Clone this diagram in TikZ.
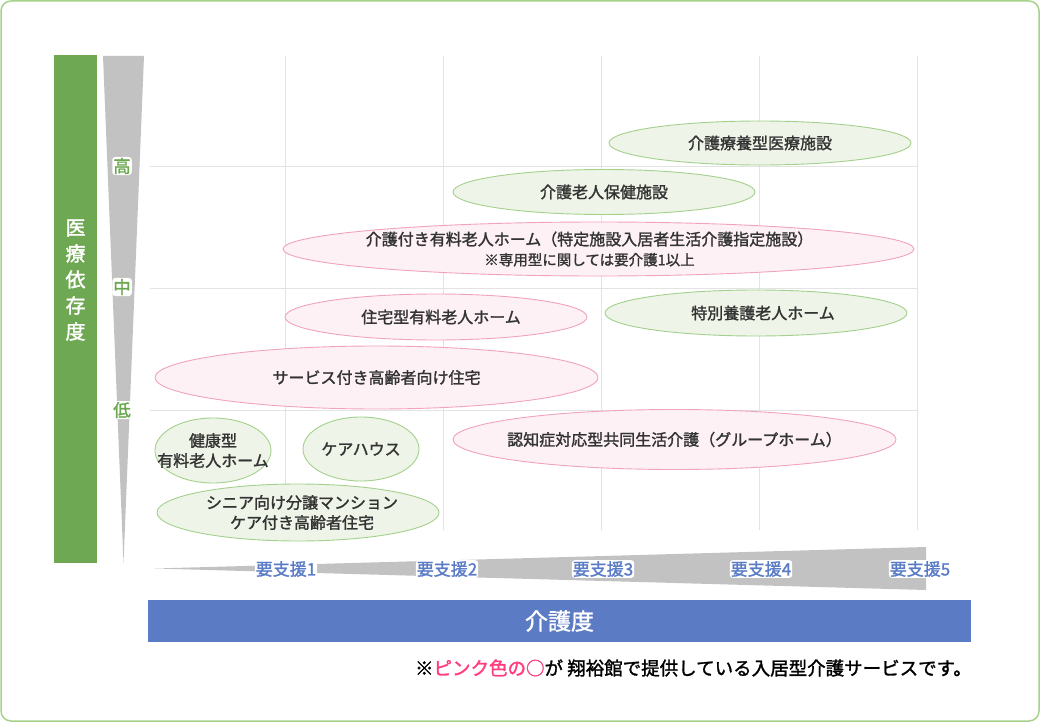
\documentclass[tikz,border=0pt]{standalone}
\usepackage{fontspec}
\setmainfont{Noto Sans CJK JP}[RawFeature={embolden=1.5}]
\usetikzlibrary{shapes.geometric}
\definecolor{outergreen}{HTML}{A6D28C}
\definecolor{bargreen}{HTML}{6FA853}
\definecolor{lblgreen}{HTML}{6AA84F}
\definecolor{trigray}{HTML}{C2C2C2}
\definecolor{gridgray}{HTML}{E3E3E3}
\definecolor{gstroke}{HTML}{A3D08C}
\definecolor{gfill}{HTML}{EEF4E7}
\definecolor{pstroke}{HTML}{F0A2BE}
\definecolor{pfill}{HTML}{FDF1F5}
\definecolor{barblue}{HTML}{5B7BC4}
\definecolor{lblblue}{HTML}{5A7BC6}
\definecolor{notepink}{HTML}{FF3D7F}
\definecolor{txt}{HTML}{333333}
\tikzset{
  gell/.style={ellipse, draw=gstroke, fill=gfill, line width=0.9pt, inner sep=0pt},
  pell/.style={ellipse, draw=pstroke, fill=pfill, line width=0.9pt, inner sep=0pt},
  etxt/.style={text=txt, align=center, inner sep=0pt, font=\fontsize{16}{20}\selectfont},
  vlbl/.style={text=lblgreen, fill=white, rounded corners=3pt, inner sep=1pt, font=\fontsize{17.5}{17.5}\selectfont},
  hlbl/.style={text=lblblue, fill=white, rounded corners=3pt, inner sep=1pt, font=\fontsize{17}{17}\selectfont},
  grid line/.style={draw=gridgray, line width=0.8pt},
}
\begin{document}
\begin{tikzpicture}[x=1pt, y=-1pt]
\useasboundingbox (0,0) rectangle (1040,722);
% outer frame
\draw[outergreen, line width=1.5pt, rounded corners=10pt] (1,1) rectangle (1039,721);
% grid
\foreach \gx in {285,443,601,759,917} \draw[grid line] (\gx,56) -- (\gx,530);
\foreach \gy in {166,288,410} \draw[grid line] (150,\gy) -- (917,\gy);
% vertical bar
\node[fill=bargreen, minimum width=43pt, minimum height=508pt, inner sep=0pt] (vbar) at (75.5,309) {};
\node[text=white, align=center, font=\fontsize{20}{26}\selectfont, inner sep=0pt] (vbartxt) at (75.5,280) {医\\療\\依\\存\\度};
% vertical triangle
\fill[trigray] (103,56) -- (144,56) -- (123.5,563) -- cycle;
\node[vlbl] (hi) at (122,166) {高};
\node[vlbl] (mid) at (122,287) {中};
\node[vlbl] (lo) at (122,410) {低};
% horizontal triangle
\fill[trigray] (155,568.5) -- (926,547) -- (926,590) -- cycle;
\node[hlbl] (s1) at (286,569) {要支援1};
\node[hlbl] (s2) at (447,569) {要支援2};
\node[hlbl] (s3) at (603,569) {要支援3};
\node[hlbl] (s4) at (761,569) {要支援4};
\node[hlbl] (s5) at (920,569) {要支援5};
% blue bar
\node[fill=barblue, minimum width=823pt, minimum height=42pt, inner sep=0pt, text=white, font=\fontsize{23}{23}\selectfont] (hbar) at (559.5,621) {介護度};
% ellipses
\node[gell, minimum width=302pt, minimum height=44pt] (e1) at (760,143) {};
\node[etxt] (t1) at (e1.center) {介護療養型医療施設};
\node[gell, minimum width=302pt, minimum height=45pt] (e2) at (604,192) {};
\node[etxt] (t2) at (e2.center) {介護老人保健施設};
\node[pell, minimum width=631pt, minimum height=54pt] (e3) at (598.5,249) {};
\node[etxt] (t3) at ([xshift=-9pt]e3.center) {介護付き有料老人ホーム（特定施設入居者生活介護指定施設）\\{\fontsize{14.5}{18}\selectfont ※専用型に関しては要介護1以上}};
\node[pell, minimum width=302pt, minimum height=46pt] (e4) at (436,317) {};
\node[etxt] (t4) at ([xshift=5pt]e4.center) {住宅型有料老人ホーム};
\node[gell, minimum width=302pt, minimum height=46pt] (e5) at (756,313) {};
\node[etxt] (t5) at ([xshift=7pt]e5.center) {特別養護老人ホーム};
\node[pell, minimum width=443pt, minimum height=63pt] (e6) at (376.5,377.5) {};
\node[etxt] (t6) at (e6.center) {サービス付き高齢者向け住宅};
\node[gell, minimum width=116pt, minimum height=65pt] (e7) at (213,450.5) {};
\node[etxt] (t7) at (e7.center) {健康型\\有料老人ホーム};
\node[gell, minimum width=116pt, minimum height=64pt] (e8) at (361,449) {};
\node[etxt] (t8) at (e8.center) {ケアハウス};
\node[pell, minimum width=443pt, minimum height=60pt] (e9) at (674.5,439.5) {};
\node[etxt] (t9) at (e9.center) {認知症対応型共同生活介護（グループホーム）};
\node[gell, minimum width=282pt, minimum height=57pt] (e10) at (298,512.5) {};
\node[etxt] (t10) at ([xshift=4pt]e10.center) {シニア向け分譲マンション\\ケア付き高齢者住宅};
% note
\node[anchor=east, inner sep=0pt, text=black, font=\fontsize{18.5}{18.5}\selectfont] (note) at (972,668) {※\textcolor{notepink}{ピンク色の○}が 翔裕館で提供している入居型介護サービスです。};
\end{tikzpicture}
\end{document}
